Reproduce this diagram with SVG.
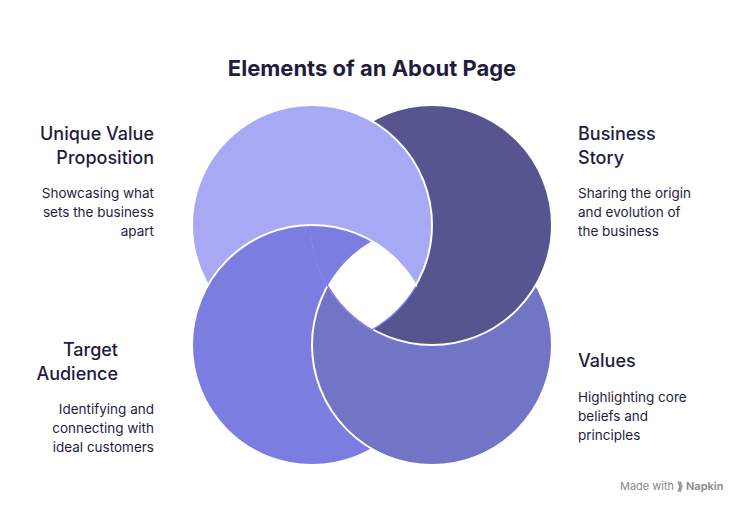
<svg xmlns="http://www.w3.org/2000/svg" width="744" height="505" viewBox="0 0 744 505">
<style>
.c{stroke:#fff;stroke-width:2}
.t{font-family:Inter,"Liberation Sans",sans-serif;fill:#1f1d3d}
.h{font-size:18px;font-weight:500}
.d{font-size:13.5px}
.r{text-anchor:end}
</style>
<defs>
<clipPath id="cTR"><circle cx="432" cy="225" r="121.5"/></clipPath>
<clipPath id="cTL"><circle cx="312" cy="225" r="121.5"/></clipPath>
</defs>
<rect width="744" height="505" fill="#fff"/>
<text class="t" x="372" y="76" text-anchor="middle" font-size="22" font-weight="700">Elements of an About Page</text>
<g id="connectors"/>
<g id="unique-value"><circle class="c" cx="312" cy="225" r="120" fill="#A8A9F5"/></g>
<g id="target-audience"><circle class="c" cx="312" cy="345" r="120" fill="#7B7EE0"/></g>
<g id="values"><circle class="c" cx="432" cy="345" r="120" fill="#7275C5"/></g>
<g id="business-story"><circle class="c" cx="432" cy="225" r="120" fill="#565590"/></g>
<g clip-path="url(#cTR)">
<circle class="c" cx="312" cy="225" r="120" fill="#A8A9F5"/>
<g clip-path="url(#cTL)"><circle class="c" cx="312" cy="345" r="120" fill="#7B7EE0"/></g>
</g>
<path d="M372,241 A120 120 0 0 1 416,285 A120 120 0 0 1 372,329 A120 120 0 0 1 328,285 A120 120 0 0 1 372,241Z" fill="#fff"/>
<g class="t">
<text class="h r" x="154" y="140">Unique Value</text>
<text class="h r" x="154" y="164">Proposition</text>
<text class="d r" x="154" y="198">Showcasing what</text>
<text class="d r" x="154" y="217">sets the business</text>
<text class="d r" x="154" y="236">apart</text>
<text class="h" x="578" y="140">Business</text>
<text class="h" x="578" y="164">Story</text>
<text class="d" x="578" y="198">Sharing the origin</text>
<text class="d" x="578" y="217">and evolution of</text>
<text class="d" x="578" y="236">the business</text>
<text class="h r" x="118" y="356">Target</text>
<text class="h r" x="118" y="380">Audience</text>
<text class="d r" x="154" y="414">Identifying and</text>
<text class="d r" x="154" y="433">connecting with</text>
<text class="d r" x="154" y="452">ideal customers</text>
<text class="h" x="578" y="367">Values</text>
<text class="d" x="578" y="402">Highlighting core</text>
<text class="d" x="578" y="421">beliefs and</text>
<text class="d" x="578" y="440">principles</text>
</g>
<text x="620" y="490" font-family="Inter,'Liberation Sans',sans-serif" font-size="11" fill="#888">Made with <tspan font-weight="600">⟫ Napkin</tspan></text>
</svg>
